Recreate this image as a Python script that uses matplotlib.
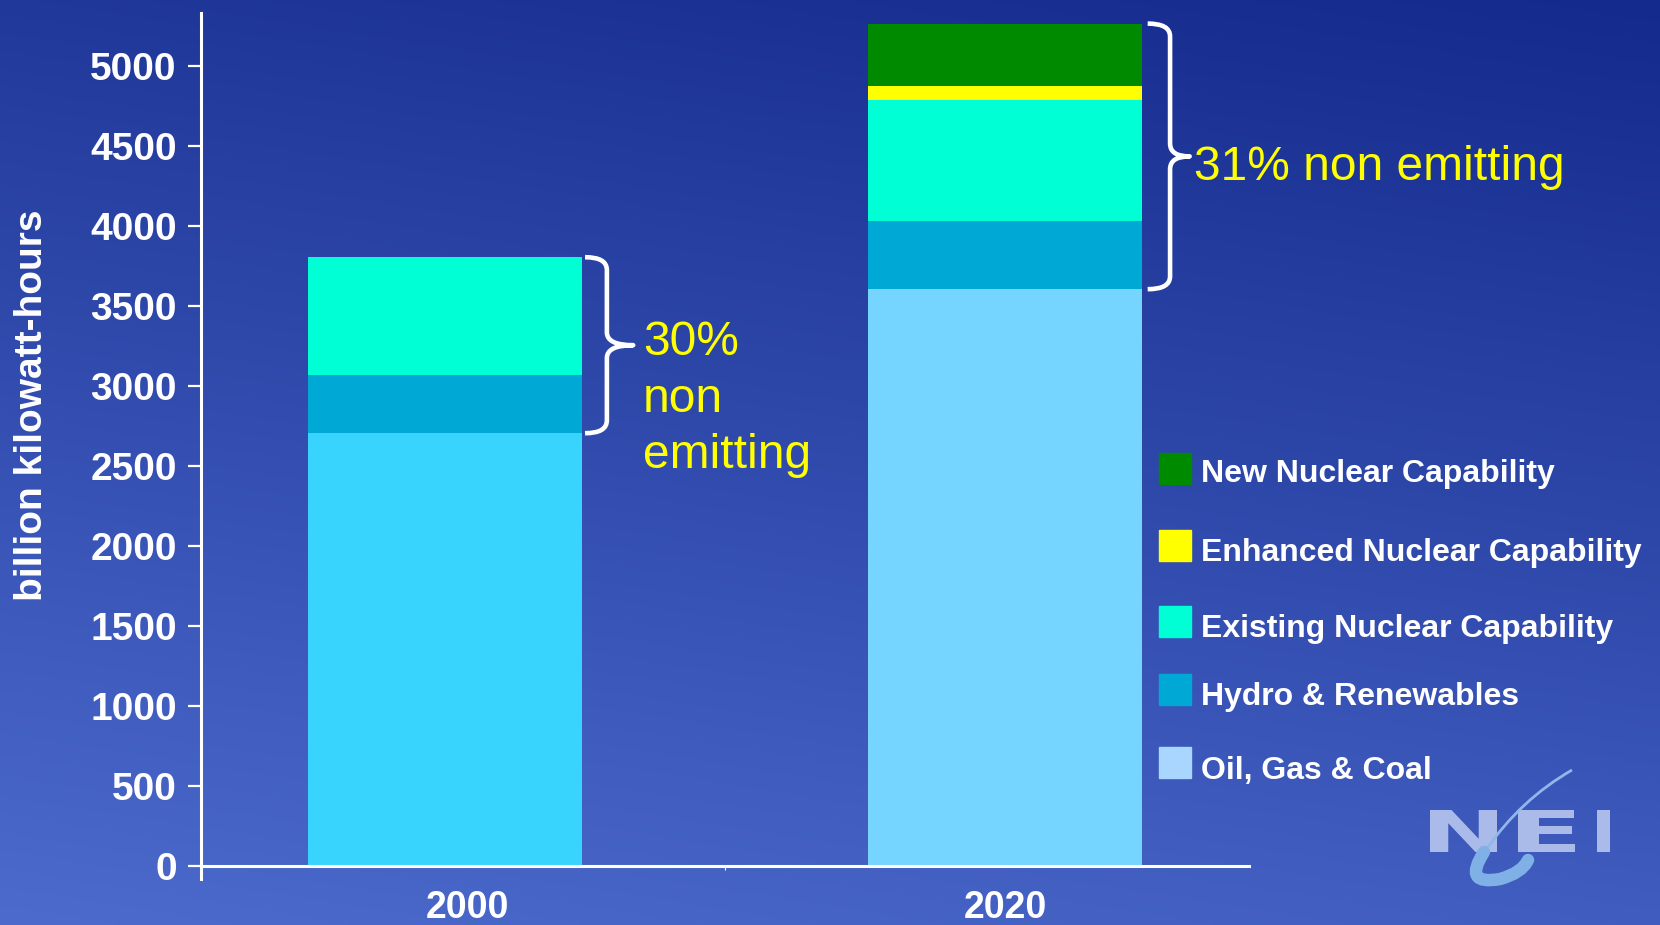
import numpy as np
import matplotlib.pyplot as plt
from matplotlib.path import Path
from matplotlib.patches import PathPatch, Rectangle
from matplotlib.textpath import TextPath
from matplotlib.font_manager import FontProperties
from matplotlib.transforms import Affine2D

# data (billion kWh)
years = ['2000', '2020']
oil_gas_coal = [2705, 3605]
hydro_renew = [365, 425]
existing_nuc = [735, 755]
enhanced_nuc = [0, 88]
new_nuc = [0, 392]
yticks = np.arange(0, 5001, 500)

legend_labels = ['New Nuclear Capability', 'Enhanced Nuclear Capability',
                 'Existing Nuclear Capability', 'Hydro & Renewables',
                 'Oil, Gas & Coal']
legend_colors = ['#008a00', '#ffff00', '#00ffd5', '#00a8d6', '#a8d6fe']

W, H = 1660, 925
fx = lambda px: px / W
fy = lambda py: 1 - py / H

BOLD = dict(family=['Liberation Sans', 'DejaVu Sans'], weight='bold', color='white')
YELLOW = dict(family=['Liberation Sans', 'DejaVu Sans'], color='#ffff00')

fig = plt.figure(figsize=(W / 100, H / 100), dpi=100)

# background gradient
bg = fig.add_axes([0, 0, 1, 1], zorder=-5)
yy = np.linspace(0, 1, 300)[:, None]
xx = np.linspace(0, 1, 400)[None, :]
dark = np.array([0x14, 0x2a, 0x8c]) / 255
light = np.array([0x4c, 0x6b, 0xcd]) / 255
t = np.clip(0.78 * yy + 0.22 * (1 - xx), 0, 1)
img = dark + (light - dark) * t[..., None]
bg.imshow(img, aspect='auto', extent=[0, 1, 0, 1], origin='upper')
bg.set_xlim(0, 1)
bg.set_ylim(0, 1)
bg.axis('off')

ax = fig.add_axes([fx(201), fy(879), (1249 - 201) / W, (879 - 12.7) / H])
ax.set_facecolor('none')

x = np.arange(len(years))
bw = 0.49
b1 = np.array(oil_gas_coal)
b2 = b1 + np.array(hydro_renew)
b3 = b2 + np.array(existing_nuc)
b4 = b3 + np.array(enhanced_nuc)
ax.bar(x, oil_gas_coal, width=bw, color=['#38d4fe', '#76d5fe'], zorder=2)
ax.bar(x, hydro_renew, bottom=b1, width=bw, color='#00a8d6', zorder=2)
ax.bar(x, existing_nuc, bottom=b2, width=bw, color='#00ffd5', zorder=2)
ax.bar(x, enhanced_nuc, bottom=b3, width=bw, color='#ffff00', zorder=2)
ax.bar(x, new_nuc, bottom=b4, width=bw, color='#008a00', zorder=2)

ax.set_xlim(-0.436, 1.436)
ax.set_ylim(-81, 5333)
for s in ['top', 'right']:
    ax.spines[s].set_visible(False)
for s in ['left', 'bottom']:
    ax.spines[s].set_color('white')
    ax.spines[s].set_linewidth(2.2)
ax.spines['bottom'].set_position(('data', 0))
ax.spines['bottom'].set_zorder(3)

ax.set_yticks(yticks)
ax.set_yticklabels([str(v) for v in yticks], fontsize=28, **BOLD)
ax.tick_params(axis='y', colors='white', length=9.5, width=1.6, pad=8)
ax.set_xticks([0.04, 1.0])
ax.set_xticklabels(years, fontsize=27, **BOLD)
ax.tick_params(axis='x', length=0, pad=17)
ax.set_xticks([0.5], minor=True)
ax.tick_params(axis='x', which='minor', colors='white', length=3, width=0.8)

fig.text(fx(32), fy(405), 'billion kilowatt-hours', rotation=90,
         ha='center', va='center', fontsize=28, **BOLD)


# curly braces spanning the non-emitting part of each bar
def brace(x0, xs, xt, ylo, yhi, r=80):
    ym = (ylo + yhi) / 2
    verts = [(x0, yhi), (xs, yhi), (xs, yhi - r),
             (xs, ym + r), (xs, ym), (xt, ym),
             (xs, ym), (xs, ym - r),
             (xs, ylo + r), (xs, ylo), (x0, ylo)]
    codes = [Path.MOVETO, Path.CURVE3, Path.CURVE3,
             Path.LINETO, Path.CURVE3, Path.CURVE3,
             Path.CURVE3, Path.CURVE3,
             Path.LINETO, Path.CURVE3, Path.CURVE3]
    ax.add_patch(PathPatch(Path(verts, codes), fill=False, ec='white',
                           lw=3.3, capstyle='butt', joinstyle='round',
                           clip_on=False, zorder=4))


brace(0.25, 0.289, 0.336, b1[0], b3[0])
brace(1.255, 1.295, 1.33, b1[1], b4[1] + new_nuc[1])

fig.text(fx(643), fy(355), '30%', ha='left', va='baseline', fontsize=34.5, **YELLOW)
fig.text(fx(643), fy(412), 'non', ha='left', va='baseline', fontsize=34.5, **YELLOW)
fig.text(fx(643), fy(468), 'emitting', ha='left', va='baseline', fontsize=34.5, **YELLOW)
fig.text(fx(1194), fy(180), '31% non emitting', ha='left', va='baseline',
         fontsize=34.5, **YELLOW)

# legend
text_y = [474, 553, 629, 697, 771]
sw_top = [453, 530, 606, 674, 747]
for lab, col, ty, st in zip(legend_labels, legend_colors, text_y, sw_top):
    fig.patches.append(Rectangle((fx(1159), fy(st + 31)), 32 / W, 31 / H,
                                 transform=fig.transFigure, color=col, zorder=5))
    fig.text(fx(1201), fy(ty), lab, ha='left', va='center', fontsize=23, **BOLD)

# NEI logo
logo_col = '#b4c4ee'
to_fig = Affine2D().scale(1 / W, 1 / H) + fig.transFigure
prop = FontProperties(family='DejaVu Sans', weight='bold')
for ch, left, right in zip('NEI', [1430, 1518, 1597], [1497, 1575, 1610]):
    tp = TextPath((0, 0), ch, size=10, prop=prop)
    ext = tp.get_extents()
    tr = (Affine2D().translate(-ext.x0, -ext.y0)
          .scale((right - left) / ext.width, 42 / ext.height)
          .translate(left, H - 852))
    fig.patches.append(PathPatch(tr.transform_path(tp), transform=to_fig,
                                 fc=logo_col, ec='none', alpha=0.92, zorder=6))
sw = Path([(fx(1572), fy(770)), (fx(1520), fy(800)), (fx(1486), fy(850))],
          [Path.MOVETO, Path.CURVE3, Path.CURVE3])
fig.patches.append(PathPatch(sw, transform=fig.transFigure, fill=False,
                             ec='#8fb8ea', lw=2, zorder=7))
blob = Path([(fx(1484), fy(852)), (fx(1462), fy(886)), (fx(1500), fy(879)),
             (fx(1522), fy(873)), (fx(1528), fy(860))],
            [Path.MOVETO, Path.CURVE3, Path.CURVE3, Path.CURVE3, Path.CURVE3])
fig.patches.append(PathPatch(blob, transform=fig.transFigure, fill=False,
                             ec='#7fb0e6', lw=9, capstyle='round', zorder=7))

fig.savefig('out.png', dpi=100)
